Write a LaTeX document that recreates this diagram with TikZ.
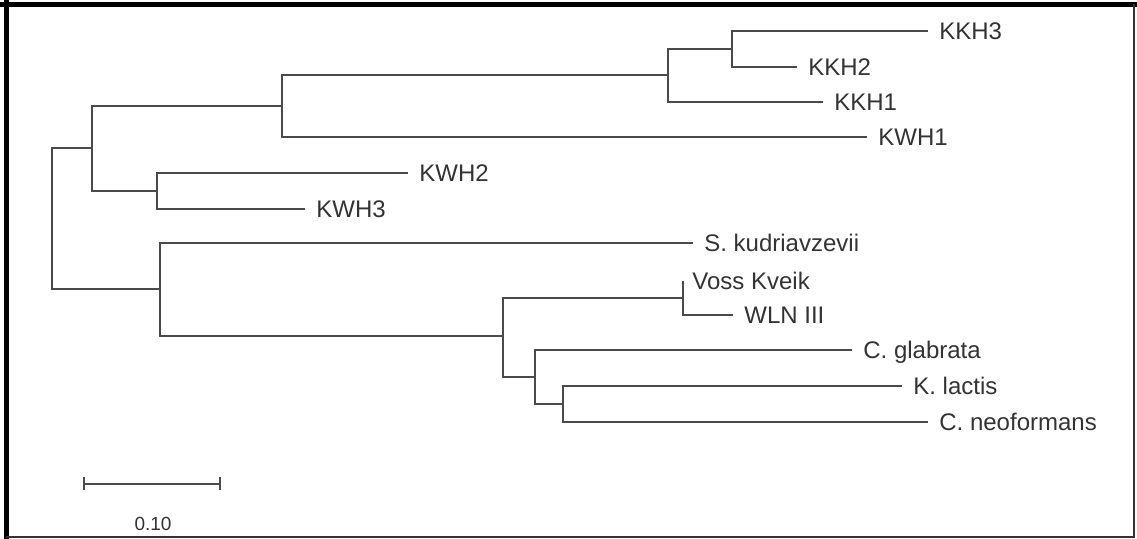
\documentclass[tikz,border=0pt]{standalone}
\usepackage{fontspec}
\setmainfont{Liberation Sans}
\usepackage{tikz}
\usetikzlibrary{arrows.meta}

\definecolor{grigioramo}{HTML}{4A4A4A}
\definecolor{grigiotesto}{HTML}{333333}

\tikzset{
  ramo/.style={draw=grigioramo, line width=1pt},
  foglia/.style={anchor=west, inner xsep=5.5pt, inner ysep=0pt, text height=8.6pt, text depth=0pt,
    text=grigiotesto, font=\fontsize{12}{14}\selectfont},
}

\begin{document}
\begin{tikzpicture}[x=0.5pt, y=-0.5pt]
        \useasboundingbox (0,0) rectangle (1137,539);
        % Cornice
        \fill[white] (0,0) rectangle (1137,539);
        \draw[black, line width=2.5pt] (6.5,0) -- (6.5,539); % bordo sinistro
        \draw[black, line width=2.5pt] (0,4.5) -- (1137,4.5); % bordo superiore
        \draw[black!80, line width=1.2pt] (1134,4) -- (1134,537) -- (6,537);

        % Nodi interni dell'albero
        \coordinate (radice) at (52,218.5);
        \coordinate (nA) at (92,148);
        \coordinate (nB) at (160,289.5);
        \coordinate (nC) at (282,106);
        \coordinate (nD) at (668,75.5);
        \coordinate (nE) at (732,49);
        \coordinate (nKWH) at (157,191);
        \coordinate (nF) at (503,336);
        \coordinate (nG) at (683,298);
        \coordinate (nH) at (535,377.5);
        \coordinate (nI) at (563,404);

        % Foglie
        \node[foglia] (kkh3) at (928,31) {KKH3};
        \node[foglia] (kkh2) at (797,67) {KKH2};
        \node[foglia] (kkh1) at (823,102) {KKH1};
        \node[foglia] (kwh1) at (867,137) {KWH1};
        \node[foglia] (kwh2) at (408,173) {KWH2};
        \node[foglia] (kwh3) at (305,209) {KWH3};
        \node[foglia] (skud) at (693,243) {S. kudriavzevii};
        \node[foglia, inner xsep=4.5pt] (voss) at (683,281) {Voss Kveik};
        \node[foglia] (wln) at (733,315) {WLN III};
        \node[foglia] (cglab) at (852,350) {C. glabrata};
        \node[foglia] (klac) at (902,386) {K. lactis};
        \node[foglia] (cneo) at (928,422) {C. neoformans};

        % Rami
        \draw[ramo] (nA) -| (radice) |- (nB);
        \draw[ramo] (nC) -| (nA) |- (nKWH);
        \draw[ramo] (nD) -| (nC) |- (kwh1.west);
        \draw[ramo] (nE) -| (nD) |- (kkh1.west);
        \draw[ramo] (kkh3.west) -| (nE) |- (kkh2.west);
        \draw[ramo] (kwh2.west) -| (nKWH) |- (kwh3.west);
        \draw[ramo] (skud.west) -| (nB) |- (nF);
        \draw[ramo] (nG) -| (nF) |- (nH);
        \draw[ramo] (voss.west) -| (nG) |- (wln.west);
        \draw[ramo] (cglab.west) -| (nH) |- (nI);
        \draw[ramo] (klac.west) -| (nI) |- (cneo.west);

        % Scala
        \coordinate (scalaA) at (83,484);
        \coordinate (scalaB) at (221,484);
        \draw[ramo, {Bar[width=6.5pt]}-{Bar[width=6.5pt]}] (scalaA) -- (scalaB);
        \node[text=grigiotesto, font=\fontsize{9.5}{11}\selectfont] (scala) at (153,524) {0.10};
    \end{tikzpicture}
\end{document}
